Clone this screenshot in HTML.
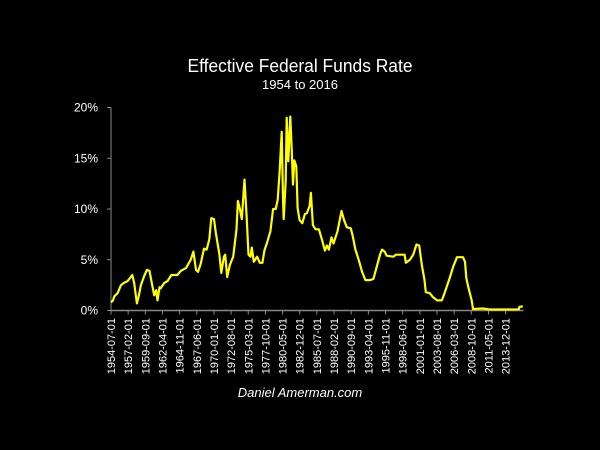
<!DOCTYPE html>
<html><head><meta charset="utf-8"><style>
body{margin:0;background:#000;}
svg{display:block;}
text{font-family:"Liberation Sans",sans-serif;fill:#fff;}
</style></head><body>
<svg id="chart" width="600" height="450">
<rect width="600" height="450" fill="#000"/>
<text x="300" y="72" font-size="18" text-anchor="middle" textLength="225" lengthAdjust="spacingAndGlyphs">Effective Federal Funds Rate</text>
<text x="300" y="89" font-size="13" text-anchor="middle">1954 to 2016</text>
<text x="300" y="397" font-size="13" font-style="italic" text-anchor="middle">Daniel Amerman.com</text>
<g id="axes"></g>
<path id="line" fill="none" stroke="#ffff00" stroke-width="2.2" stroke-linejoin="round"/>
</svg>
<script>
const dates=[1954.5,1954.8,1955.0,1955.5,1956.0,1956.5,1957.0,1957.7,1958.0,1958.4,1958.7,1959.0,1959.5,1959.9,1960.3,1960.7,1961.0,1961.3,1961.5,1961.8,1962.0,1962.5,1963.0,1963.6,1964.5,1965.0,1965.8,1966.5,1966.9,1967.3,1967.6,1968.0,1968.5,1968.9,1969.3,1969.6,1970.0,1970.3,1970.8,1971.1,1971.5,1971.7,1972.0,1972.4,1972.9,1973.4,1973.6,1973.9,1974.2,1974.6,1974.9,1975.2,1975.5,1975.7,1976.0,1976.5,1976.9,1977.3,1977.6,1978.0,1978.5,1978.9,1979.3,1979.6,1979.9,1980.2,1980.4,1980.5,1980.8,1980.95,1981.2,1981.5,1981.7,1981.9,1982.1,1982.4,1982.6,1982.9,1983.3,1983.7,1984.0,1984.4,1984.6,1984.9,1985.3,1985.8,1986.3,1986.7,1987.0,1987.3,1987.7,1988.0,1988.6,1989.2,1989.6,1990.0,1990.6,1990.9,1991.3,1991.8,1992.3,1992.8,1993.5,1994.0,1994.5,1995.0,1995.3,1995.7,1996.0,1997.0,1997.4,1998.0,1998.7,1998.9,1999.5,2000.0,2000.5,2000.9,2001.3,2001.7,2001.9,2002.5,2003.0,2003.6,2004.3,2004.6,2005.5,2006.0,2006.6,2007.5,2007.8,2008.0,2008.3,2008.8,2009.0,2010.5,2011.5,2014.0,2015.9,2016.0,2016.5];
const rates=[0.8,1.0,1.4,1.7,2.5,2.75,2.9,3.5,2.7,0.7,1.5,2.5,3.4,4.0,3.9,2.5,1.5,2.0,1.0,2.3,2.2,2.7,2.9,3.5,3.5,3.9,4.2,5.0,5.8,4.0,3.8,4.6,6.1,6.0,7.0,9.1,9.0,7.6,5.6,3.7,5.3,5.5,3.3,4.5,5.3,8.0,10.8,10.0,9.0,12.9,9.5,5.5,5.3,6.2,4.8,5.3,4.7,4.7,5.9,6.7,7.8,10.0,10.0,10.9,13.8,17.6,11.0,9.0,12.8,19.0,14.7,19.1,15.9,12.4,14.8,14.2,10.1,8.9,8.6,9.5,9.6,10.3,11.6,8.4,8.0,8.0,6.9,5.9,6.4,6.0,7.2,6.6,7.8,9.8,8.9,8.2,8.1,7.3,6.0,5.0,3.8,3.0,3.0,3.1,4.3,5.5,6.0,5.8,5.4,5.3,5.5,5.5,5.5,4.7,5.0,5.5,6.5,6.4,4.5,3.0,1.8,1.7,1.3,1.0,1.0,1.5,3.2,4.3,5.25,5.25,4.8,3.2,2.3,1.0,0.15,0.2,0.1,0.1,0.12,0.36,0.4];
const yTicks=[0,5,10,15,20];
const yTickLabels=["0%","5%","10%","15%","20%"];
const xTickLabels=["1954-07-01","1957-02-01","1959-09-01","1962-04-01","1964-11-01","1967-06-01","1970-01-01","1972-08-01","1975-03-01","1977-10-01","1980-05-01","1982-12-01","1985-07-01","1988-02-01","1990-09-01","1993-04-01","1995-11-01","1998-06-01","2001-01-01","2003-08-01","2006-03-01","2008-10-01","2011-05-01","2013-12-01"];

const X0=111,Y0=310.5,PXM=0.5535,PY=10.15;
function xScale(yr){return X0+(yr-1954.5)*12*PXM;}
function yScale(v){return Y0-v*PY;}
function labelYear(s){const p=s.split('-');return +p[0]+(+p[1]-1)/12;}
const NS="http://www.w3.org/2000/svg";
const ax=document.getElementById('axes');
function mk(tag,attrs){const e=document.createElementNS(NS,tag);for(const k in attrs)e.setAttribute(k,attrs[k]);ax.appendChild(e);return e;}
let e=mk('line',{x1:X0,y1:yScale(20),x2:X0,y2:Y0,stroke:'#888','stroke-width':1});


e=mk('line',{x1:X0,y1:Y0,x2:xScale(2016.6),y2:Y0,stroke:'#888','stroke-width':1.5});


yTicks.forEach((v,i)=>{
  const y=yScale(v);
  let t=mk('line',{x1:X0-4,y1:y,x2:X0,y2:y,stroke:'#888'});
  
  
  let l=mk('text',{x:X0-13,y:y+4,'font-size':12,'text-anchor':'end'});
  l.textContent=yTickLabels[i];
  
  
});
xTickLabels.forEach(s=>{
  const x=xScale(labelYear(s));
  let t=mk('line',{x1:x,y1:Y0,x2:x,y2:Y0+4,stroke:'#888'});
  
  
  let l=mk('text',{x:0,y:0,'font-size':11,'text-anchor':'end',transform:`translate(${x+4},318) rotate(-90)`});
  l.textContent=s;
  
  
});
document.getElementById('line').setAttribute('d',dates.map((d,i)=>(i?'L':'M')+xScale(d).toFixed(1)+','+yScale(rates[i]).toFixed(1)).join(''));
</script>
</body></html>
